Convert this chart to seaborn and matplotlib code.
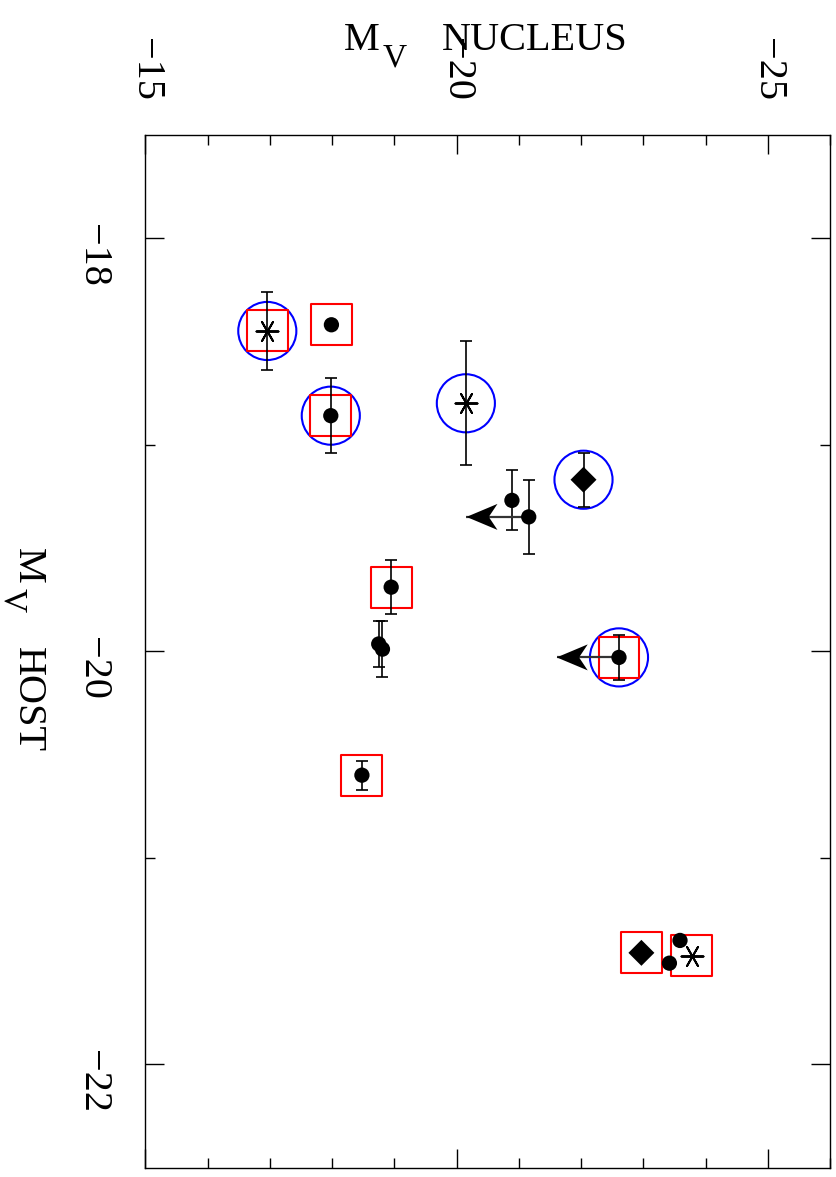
import numpy as np
import pandas as pd
import matplotlib
matplotlib.use("Agg")
import matplotlib.pyplot as plt
from matplotlib.path import Path
from matplotlib.ticker import MultipleLocator
import seaborn as sns

# Absolute V magnitudes of nucleus and host galaxy
nucleus_mag = [-16.96, -17.99, -17.98, -20.15, -22.04, -20.89, -21.16, -18.95,
               -18.75, -18.81, -22.61, -18.48, -22.97, -23.59, -23.42, -23.78]
host_mag = [-18.45, -18.42, -18.86, -18.80, -19.17, -19.27, -19.35, -19.69,
            -19.965, -19.99, -20.03, -20.60, -21.46, -21.40, -21.51, -21.475]
host_err = [0.19, 0.0, 0.18, 0.30, 0.13, 0.145, 0.18, 0.13,
            0.11, 0.135, 0.11, 0.07, 0.0, 0.0, 0.0, 0.0]
symbol = ["star", "dot", "dot", "star", "diamond", "dot", "dot", "dot",
          "dot", "dot", "dot", "dot", "diamond", "dot", "dot", "star"]
circled = [1, 0, 1, 1, 1, 0, 0, 0, 0, 0, 1, 0, 0, 0, 0, 0]
boxed = [1, 1, 1, 0, 0, 0, 0, 1, 0, 0, 1, 1, 1, 0, 0, 1]
# nucleus upper limits: arrow length in magnitudes (0 = detection)
limit_len = [0, 0, 0, 0, 0, 0, 1.0, 0, 0, 0, 1.0, 0, 0, 0, 0, 0]

x_ticks_major = [-15, -20, -25]
y_ticks_major = [-18, -20, -22]

df = pd.DataFrame({
    "nucleus": nucleus_mag, "host": host_mag, "err": host_err,
    "symbol": symbol, "circled": circled, "boxed": boxed, "limit": limit_len,
})
df["tip"] = df["nucleus"] + df["limit"]

sns.set_theme(style="white")
plt.rcParams.update({
    "font.family": ["Liberation Serif", "DejaVu Serif"],
    "text.color": "black",
    "axes.edgecolor": "black",
    "axes.linewidth": 1.0,
    "xtick.color": "black",
    "ytick.color": "black",
    "axes.labelcolor": "black",
})

fig = plt.figure(figsize=(8.37, 11.77), dpi=100)
ax = fig.add_axes([145.3 / 837, 9.3 / 1177, 684.7 / 837, 1033 / 1177])

# open blue circles and red squares flagging sub-samples
sns.scatterplot(data=df[df.circled == 1], x="nucleus", y="host", marker="o",
                s=1750, facecolors="none", edgecolor="#0000ff", linewidth=1.5,
                ax=ax, zorder=1, legend=False)
sns.scatterplot(data=df[df.boxed == 1], x="nucleus", y="host", marker="s",
                s=870, facecolors="none", edgecolor="#ff0000", linewidth=1.5,
                ax=ax, zorder=2, legend=False)

# vertical error bars on host magnitude
eb = df[df.err > 0]
ax.errorbar(eb["nucleus"], eb["host"], yerr=eb["err"], fmt="none",
            ecolor="black", elinewidth=1.2, capsize=4, capthick=1.2, zorder=3)

# upper-limit arrows
lim = df[df.limit > 0]
ax.hlines(lim["host"], lim["nucleus"], lim["tip"], color="#333333",
          linewidth=1.6, zorder=3)
head = Path([(0, 0), (1, 0.42), (0.72, 0), (1, -0.42), (0, 0)],
            [Path.MOVETO, Path.LINETO, Path.LINETO, Path.LINETO, Path.CLOSEPOLY])
sns.scatterplot(data=lim, x="tip", y="host", marker=head, s=1990,
                color="black", edgecolor="none", ax=ax, zorder=4, legend=False)

# data symbols
sns.scatterplot(data=df[df.symbol == "dot"], x="nucleus", y="host", marker="o",
                s=121, color="black", edgecolor="none", ax=ax, zorder=5,
                legend=False)
sns.scatterplot(data=df[df.symbol == "diamond"], x="nucleus", y="host",
                marker="D", s=175, color="black", edgecolor="none", ax=ax,
                zorder=5, legend=False)
sns.scatterplot(data=df[df.symbol == "star"], x="nucleus", y="host",
                marker=(6, 2, 30), s=250, color="black", linewidth=1.4, ax=ax,
                zorder=5, legend=False)

ax.set_xlim(-15, -26)
ax.set_ylim(-22.5, -17.5)
ax.set_xlabel("")
ax.set_ylabel("")

ax.xaxis.set_minor_locator(MultipleLocator(1))
ax.yaxis.set_minor_locator(MultipleLocator(1))
ax.set_xticks(x_ticks_major)
ax.set_yticks(y_ticks_major)

ax.tick_params(which="both", direction="in", top=True, bottom=True,
               left=True, right=True, labeltop=True, labelbottom=False,
               labelleft=True, labelright=False, width=1.0)
ax.tick_params(which="major", length=13.7)
ax.tick_params(which="minor", length=7.5)
ax.tick_params(axis="x", which="major", labelsize=29, pad=24,
               labelrotation=270)
ax.tick_params(axis="y", which="major", labelsize=29, pad=25,
               labelrotation=270)

# axis titles with a large, dropped subscript
lab = dict(transform=ax.transAxes, fontsize=29)
ax.text(0.3418, 1.0820, "M", ha="right", va="baseline", **lab)
ax.text(0.3472, 1.0658, "V", ha="left", va="baseline",
        transform=ax.transAxes, fontsize=24)
ax.text(0.4330, 1.0820, "NUCLEUS", ha="left", va="baseline", **lab)

rot = dict(rotation=270, rotation_mode="anchor")
ax.text(-0.1860, 0.5651, "M", ha="right", va="baseline", **rot, **lab)
ax.text(-0.2065, 0.5612, "V", ha="left", va="baseline", **rot,
        transform=ax.transAxes, fontsize=24)
ax.text(-0.1860, 0.5041, "HOST", ha="left", va="baseline", **rot, **lab)

fig.savefig("out.png", dpi=100)
